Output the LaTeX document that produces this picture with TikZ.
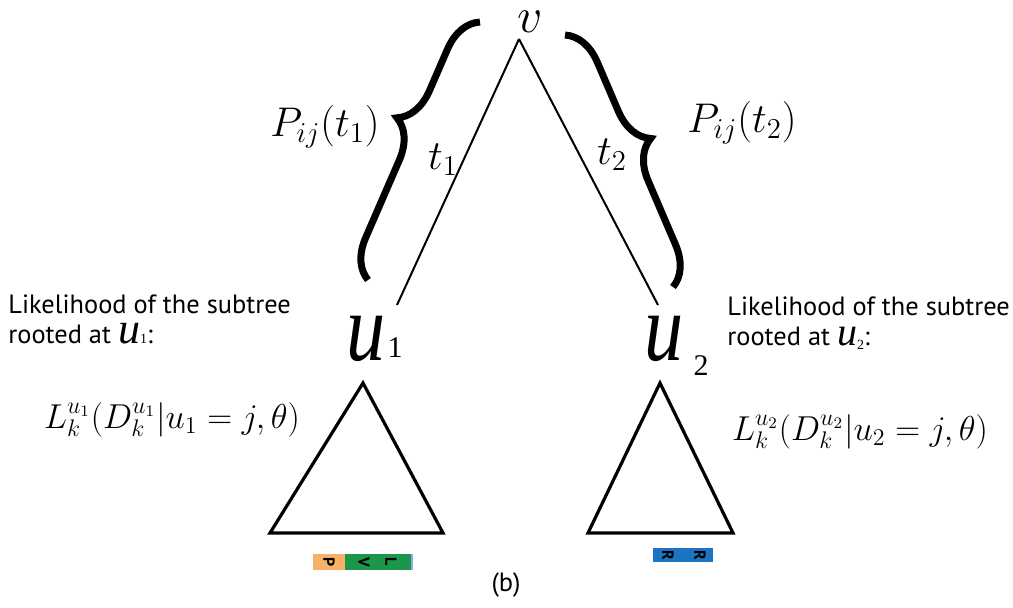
\documentclass[tikz,border=0pt]{standalone}
\usepackage{fontspec}
\usepackage{graphicx}
\setmainfont{PT Sans}
\newfontfamily\tnr{Liberation Serif}
\usetikzlibrary{decorations.pathreplacing}

\definecolor{resorange}{RGB}{247,178,103}
\definecolor{resgreen}{RGB}{28,150,72}
\definecolor{resblue}{RGB}{28,117,196}
\definecolor{reslight}{RGB}{120,180,230}

\begin{document}
\begin{tikzpicture}[x=0.5pt, y=-0.5pt, inner sep=0pt,
  branch/.style ={line width=1pt},
  subtree/.style={line width=1.6pt, line join=miter},
  curly/.style  ={decorate, decoration={brace, amplitude=19pt, aspect=#1}, line width=3.5pt},
  txt/.style    ={font=\fontsize{13.2}{15}\selectfont, align=left},
  fml/.style    ={font=\fontsize{17}{19}\selectfont},
  lbl/.style    ={font=\fontsize{20}{22}\selectfont},
  bigu/.style   ={font=\tnr\fontsize{46}{46}\selectfont},
  res/.style    ={font=\fontsize{8}{8}\selectfont\bfseries, rotate=-90}]
\useasboundingbox (0,0) rectangle (1013,607);

% root and children
\node[font=\fontsize{26}{26}\selectfont] (v) at (530,22) {$v$};
\coordinate (vtip) at (519,39);
\coordinate (u1tip) at (397,305);
\coordinate (u2tip) at (658,305);
\draw[branch] (vtip) -- (u1tip);
\draw[branch] (vtip) -- (u2tip);
\node[lbl] (t1) at (443,160) {$t_1$};
\node[lbl] (t2) at (612,155) {$t_2$};

% transition probabilities
\coordinate (b1s) at (368,280);
\coordinate (b1e) at (480,22);
\coordinate (b2s) at (565,35);
\coordinate (b2e) at (673,287);
\draw[curly=0.57] (b1s) -- (b1e);
\draw[curly=0.47] (b2s) -- (b2e);
\node[lbl] (p1) at (325,127) {$P_{ij}(t_1)$};
\node[lbl] (p2) at (742,123) {$P_{ij}(t_2)$};

% children labels
\node[bigu, anchor=base west] (u1) at (346,360)
  {\scalebox{0.85}[1.05]{\itshape u}\hspace{1pt}\raisebox{1.5pt}{\fontsize{15}{15}\selectfont 1}};
\node[bigu, anchor=base west] (u2) at (644,360)
  {\scalebox{0.85}[1.05]{\itshape u}\hspace{5pt}\raisebox{-7.5pt}{\fontsize{15}{15}\selectfont 2}};

% likelihood texts
\node[txt, anchor=base west] (lik1) at (8,343)
  {Likelihood of the subtree\\rooted at \smash{\tnr\fontsize{22}{15}\selectfont\itshape u}{\tnr\fontsize{7}{7}\selectfont 1}:};
\node[txt, anchor=base west] (lik2) at (727,345)
  {Likelihood of the subtree\\rooted at \smash{\tnr\fontsize{20}{15}\selectfont\itshape u}\raisebox{-2pt}{\tnr\fontsize{7}{7}\selectfont 2}:};
\node[fml] (L1) at (172,420) {$L_k^{u_1}\bigl(D_k^{u_1}\big|u_1=j,\theta\bigr)$};
\node[fml] (L2) at (860,432) {$L_k^{u_2}\bigl(D_k^{u_2}\big|u_2=j,\theta\bigr)$};

% subtrees
\draw[subtree] (363,383) -- (443,533) -- (270,533) -- cycle;
\draw[subtree] (660,383) -- (733,533) -- (588,533) -- cycle;

% residues
\fill[resorange] (313,554) rectangle (345,570);
\fill[resgreen] (345,554) rectangle (411,570);
\fill[reslight] (411,554) rectangle (413,570);
\fill[resblue] (653,548) rectangle (713,562);
\node[res] (rP) at (329,562) {P};
\node[res] (rV) at (364,562) {V};
\node[res] (rL) at (391,562) {L};
\node[res] (rR1) at (668,555) {R};
\node[res] (rR2) at (700,555) {R};

\node[txt] (cap) at (506,585) {(b)};
\end{tikzpicture}
\end{document}
